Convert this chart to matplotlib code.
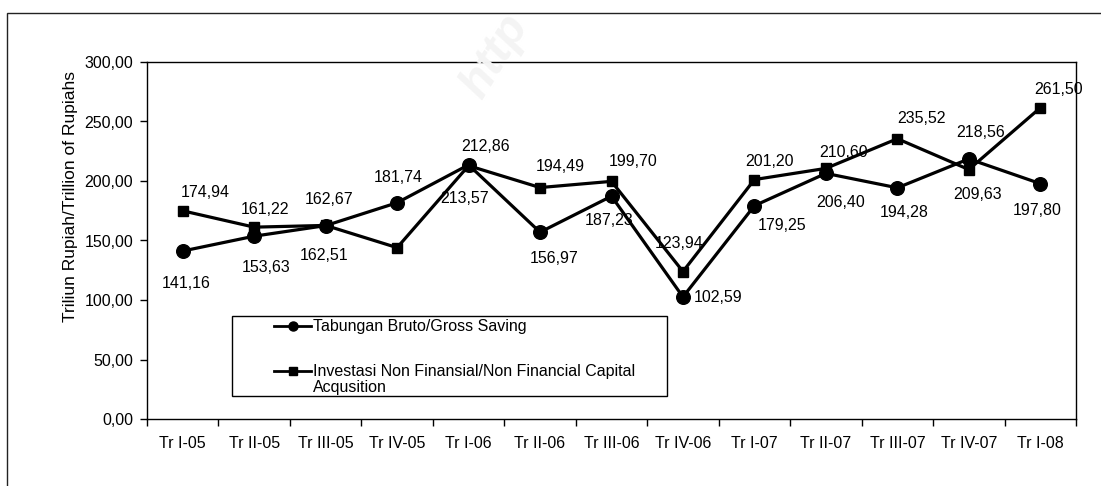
import numpy as np
import matplotlib
matplotlib.use("Agg")
import matplotlib.pyplot as plt
from matplotlib.lines import Line2D
from matplotlib.patches import Rectangle

# ---------------- data ----------------
categories = ["Tr I-05", "Tr II-05", "Tr III-05", "Tr IV-05", "Tr I-06", "Tr II-06",
              "Tr III-06", "Tr IV-06", "Tr I-07", "Tr II-07", "Tr III-07", "Tr IV-07", "Tr I-08"]
tabungan = [141.16, 153.63, 162.51, 181.74, 213.57, 156.97, 187.23,
            102.59, 179.25, 206.40, 194.28, 218.56, 197.80]
investasi = [174.94, 161.22, 162.67, 144.00, 212.86, 194.49, 199.70,
             123.94, 201.20, 210.60, 235.52, 209.63, 261.50]
investasi_labelled = [True, True, True, False, True, True, True,
                      True, True, True, True, True, True]
yticks = [0, 50, 100, 150, 200, 250, 300]
label_tabungan = "Tabungan Bruto/Gross Saving"
label_investasi = "Investasi Non Finansial/Non Financial Capital"
label_investasi2 = "Acqusition"
ylabel = "Triliun Rupiah/Trillion of Rupiahs"

# label offsets (pixels, x right, y down) -- styling only
off_tab = [(3, 32), (12, 31), (-2, 30), (1, -25), (-4, 34), (14, 26), (-2, 24),
           (35, 1), (28, 20), (15, 29), (7, 25), (12, -26), (-3, 27)]
off_inv = [(23, -18), (11, -18), (3, -26), (0, 0), (17, -19), (20, -21), (22, -20),
           (-4, -28), (15, -18), (18, -16), (24, -20), (9, 25), (18, -18)]

W, H = 1101, 486
FS = 11.5
plt.rcParams['font.family'] = ['Liberation Sans', 'DejaVu Sans']
fig = plt.figure(figsize=(W / 100, H / 100), dpi=100)
fig.patch.set_facecolor('white')

def fx(x):
    return x / W

def fy(y):
    return 1 - y / H

# outer border (cut off at right/bottom)
fig.add_artist(Rectangle((fx(7), fy(H + 10)), fx(W + 20), fy(13) - fy(H + 10),
                         transform=fig.transFigure, fill=False, edgecolor='#222222', lw=1.0))

# faint watermark
fig.text(fx(495), fy(56), "http", fontsize=34, fontweight='bold', style='italic',
         color='#f4f4f4', rotation=58, ha='center', va='center', zorder=0)

left, right, top, bottom = 147, 1076, 62, 419
ax = fig.add_axes([fx(left), fy(bottom), fx(right - left), fy(top) - fy(bottom)])
ax.set_facecolor('none')

x = np.arange(len(categories))
ax.plot(x, investasi, color='black', lw=2.3, marker='s', markersize=6.8, zorder=3)
ax.plot(x, tabungan, color='black', lw=2.3, marker='o', markersize=9.8, zorder=4)

px2pt = 72 / 100
def fmt(v):
    return f"{v:.2f}".replace('.', ',')

for i, v in enumerate(tabungan):
    dx, dy = off_tab[i]
    ax.annotate(fmt(v), (x[i], v), xytext=(dx * px2pt, -dy * px2pt), textcoords='offset points',
                ha='center', va='center', fontsize=FS, color='black', zorder=5)
for i, v in enumerate(investasi):
    if not investasi_labelled[i]:
        continue
    dx, dy = off_inv[i]
    ax.annotate(fmt(v), (x[i], v), xytext=(dx * px2pt, -dy * px2pt), textcoords='offset points',
                ha='center', va='center', fontsize=FS, color='black', zorder=5)

ax.set_xlim(-0.5, len(categories) - 0.5)
ax.set_ylim(0, 300)
ax.set_yticks(yticks)
ax.set_yticklabels([fmt(t) for t in yticks], fontsize=FS)
ax.set_xticks(x)
ax.set_xticklabels(categories, fontsize=FS)
ax.set_xticks(np.arange(-0.5, len(categories), 1), minor=True)
ax.tick_params(axis='x', which='major', length=0, pad=12)
ax.tick_params(axis='x', which='minor', length=5, width=1, direction='out')
ax.tick_params(axis='y', which='major', length=5, width=1, direction='out', pad=5)
for s in ax.spines.values():
    s.set_color('black')
    s.set_linewidth(1.0)

# y label
fig.text(fx(71), fy(197), ylabel, rotation=90, ha='center', va='center', fontsize=12.5)

# manual legend
fig.add_artist(Rectangle((fx(232), fy(396)), fx(667 - 232), fy(316) - fy(396),
                         transform=fig.transFigure, fill=False, edgecolor='black', lw=1.0))
fig.add_artist(Line2D([fx(274), fx(311)], [fy(326), fy(326)], transform=fig.transFigure,
                      color='black', lw=2.0, marker=None))
fig.add_artist(Line2D([fx(292.5)], [fy(326)], transform=fig.transFigure,
                      color='black', marker='o', markersize=6.5, lw=0))
fig.add_artist(Line2D([fx(274), fx(311)], [fy(371), fy(371)], transform=fig.transFigure,
                      color='black', lw=2.0))
fig.add_artist(Line2D([fx(292.5)], [fy(371)], transform=fig.transFigure,
                      color='black', marker='s', markersize=5.5, lw=0))
fig.text(fx(313), fy(326), label_tabungan, ha='left', va='center', fontsize=FS)
fig.text(fx(313), fy(371), label_investasi, ha='left', va='center', fontsize=FS)
fig.text(fx(313), fy(387), label_investasi2, ha='left', va='center', fontsize=FS)

fig.savefig("out.png", dpi=100)
